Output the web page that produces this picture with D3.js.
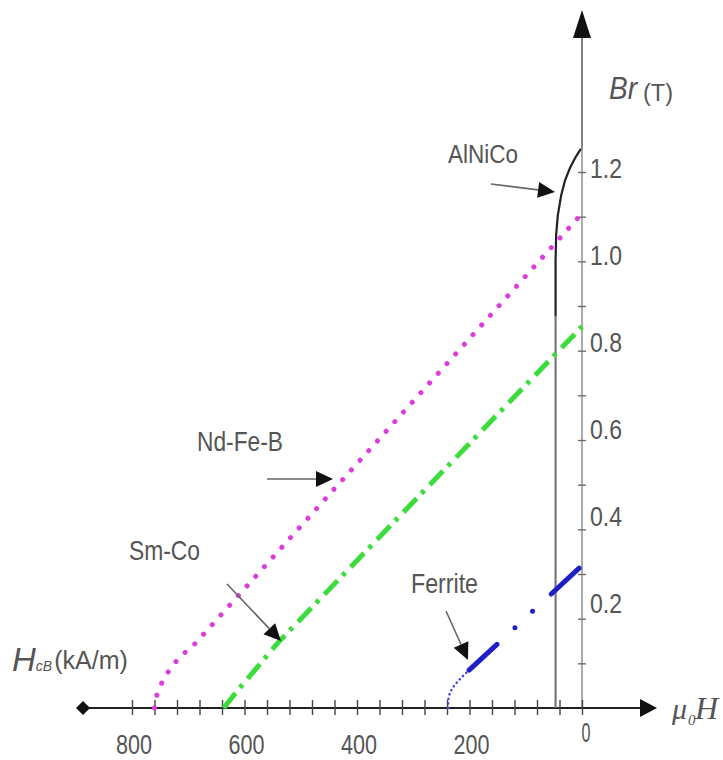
<!DOCTYPE html>
<html><head><meta charset="utf-8">
<script src="https://cdn.jsdelivr.net/npm/d3@7"></script>
<style>html,body{margin:0;padding:0;background:#fff}svg{display:block}</style>
</head><body><div id="chart"></div>
<script>
// ---- data ----
const xTickMarks = [0,40,80,120,160,200,240,280,320,360,400,440,480,520,560,600,640,680,720,760,800];
const xTickLabels = [800,600,400,200,0];
const yTickMarks = [0.1,0.2,0.3,0.4,0.5,0.6,0.7,0.8,0.9,1.0,1.1,1.2];
const yTickLabels = ["0.2","0.4","0.6","0.8","1.0","1.2"];

const ndfebH = [760,755,742,729,715,693,617,-2];
const ndfebB = [0,0.034,0.07,0.092,0.115,0.137,0.243,1.11];

const smcoH = [637,615,540,0];
const smcoB = [0,0.035,0.147,0.854];

const ferriteCurveH = [238,238,235,229,222,213,204];
const ferriteCurveB = [0,0.018,0.034,0.047,0.058,0.07,0.081];
const ferriteLineH = [204,0];
const ferriteLineB = [0.081,0.319];

const alnicoH = [3,12,21,30,37,43,46,47,47];
const alnicoB = [1.25,1.232,1.21,1.182,1.148,1.103,1.058,1.0,0.88];
const alnicoTailH = [47,47];
const alnicoTailB = [0.88,0];

// ---- layout ----
const W = 723, H = 760;
const svg = d3.select("#chart").append("svg").attr("width", W).attr("height", H);
const x = d3.scaleLinear().domain([800,0]).range([132,582]);
const y = d3.scaleLinear().domain([0,1.2]).range([708,172]);
const yLab = d3.scaleLinear().domain([0.2,1.2]).range([613,178]);
const SANS = "'Liberation Sans', Arial, sans-serif";
const SERIF = "'Liberation Serif', 'Times New Roman', serif";

function txt(px, py, s, size, len, o = {}) {
  const t = svg.append("text").attr("x", px).attr("y", py)
    .attr("font-family", o.family || SANS).attr("font-size", size)
    .attr("fill", o.fill || "#555").attr("text-anchor", o.anchor || "start")
    .text(s);
  if (o.italic) t.attr("font-style", "italic");
  if (len) t.attr("textLength", len).attr("lengthAdjust", "spacingAndGlyphs");
  return t;
}
function zip(a, b) { return a.map((v, i) => [v, b[i]]); }
const line = d3.line().x(d => x(d[0])).y(d => y(d[1]));

// ---- axes ----
svg.append("line").attr("x1", x(0)).attr("x2", x(0)).attr("y1", y(0)).attr("y2", y(1.25))
  .attr("stroke", "#aaa").attr("stroke-width", 2);
svg.append("line").attr("x1", x(0)).attr("x2", x(0)).attr("y1", y(1.25)).attr("y2", 30)
  .attr("stroke", "#666").attr("stroke-width", 1.6);
svg.append("path").attr("d", `M${x(0)},10 L${x(0)-9},38 L${x(0)+9},38 Z`).attr("fill", "#111");

const yAx = svg.append("g").attr("transform", `translate(${x(0)},0)`)
  .call(d3.axisRight(y).tickValues(yTickMarks).tickSize(4).tickFormat(""));
yAx.select(".domain").remove();
yAx.selectAll(".tick line").attr("x1", -4).attr("x2", 4).attr("stroke", "#666").attr("stroke-width", 1.3);

svg.append("line").attr("x1", 83).attr("x2", 642).attr("y1", y(0)).attr("y2", y(0))
  .attr("stroke", "#222").attr("stroke-width", 2);
svg.append("path").attr("d", `M657,${y(0)} L640,${y(0)-9} L640,${y(0)+9} Z`).attr("fill", "#111");
svg.append("path").attr("d", `M83,${y(0)-7} L90,${y(0)} L83,${y(0)+7} L76,${y(0)} Z`).attr("fill", "#111");

const xAx = svg.append("g").attr("transform", `translate(0,${y(0)})`)
  .call(d3.axisBottom(x).tickValues(xTickMarks).tickSize(7).tickFormat(""));
xAx.select(".domain").remove();
xAx.selectAll(".tick line").attr("y1", -8).attr("y2", 7).attr("stroke", "#444").attr("stroke-width", 1.4);

xTickLabels.forEach(v => {
  const s = String(v);
  if (v === 0) txt(x(v) + 4, 742, s, 28, 9, { anchor: "middle" });
  else txt(x(v) + 2, 754, s, 28, 36, { anchor: "middle" });
});
yTickLabels.forEach(s => txt(590, yLab(+s), s, 28, 32));

// ---- curves ----
svg.append("path").attr("d", line(zip(alnicoTailH, alnicoTailB)))
  .attr("fill", "none").attr("stroke", "#777").attr("stroke-width", 2.2);
svg.append("path").attr("d", line(zip(alnicoH, alnicoB)))
  .attr("fill", "none").attr("stroke", "#222").attr("stroke-width", 2.2).attr("stroke-linecap", "round");

svg.append("path").attr("d", line(zip(ndfebH, ndfebB)))
  .attr("fill", "none").attr("stroke", "#dd3cdd").attr("stroke-width", 5)
  .attr("stroke-linecap", "round").attr("stroke-dasharray", "0.1,12.9");

svg.append("path").attr("d", line(zip(smcoH, smcoB)))
  .attr("fill", "none").attr("stroke", "#3ddc3d").attr("stroke-width", 5)
  .attr("stroke-dasharray", "19,7,4,8");

svg.append("path").attr("d", line(zip(ferriteCurveH, ferriteCurveB)))
  .attr("fill", "none").attr("stroke", "#4a4ae0").attr("stroke-width", 2.6)
  .attr("stroke-linecap", "round").attr("stroke-dasharray", "0.1,4.5");
svg.append("path").attr("d", line(zip(ferriteLineH, ferriteLineB)))
  .attr("fill", "none").attr("stroke", "#1f1fc8").attr("stroke-width", 5)
  .attr("stroke-linecap", "round").attr("stroke-dasharray", "38,24.5,0,24,0,25.5")
  .attr("stroke-dashoffset", -2.5);

// ---- annotation arrows ----
function arrow(x1, y1, x2, y2) {
  const dx = x2 - x1, dy = y2 - y1, L = Math.hypot(dx, dy);
  const ux = dx / L, uy = dy / L, nx = -uy, ny = ux;
  const hl = 17, hw = 8;
  const bx = x2 - ux * hl, by = y2 - uy * hl;
  svg.append("line").attr("x1", x1).attr("y1", y1).attr("x2", bx).attr("y2", by)
    .attr("stroke", "#666").attr("stroke-width", 1.6);
  svg.append("path").attr("d", `M${x2},${y2} L${bx + nx * hw},${by + ny * hw} L${bx - nx * hw},${by - ny * hw} Z`)
    .attr("fill", "#111");
}
arrow(491, 184, 555, 192);
arrow(267, 479, 333, 479);
arrow(227, 584, 281, 641);
arrow(446, 611, 468, 660);

// ---- labels ----
txt(448, 163, "AlNiCo", 25, 70);
txt(197, 451, "Nd-Fe-B", 28, 86);
txt(129, 560, "Sm-Co", 28, 71);
txt(411, 593, "Ferrite", 28, 67);

txt(609, 99, "Br", 31, 28, { italic: true });
txt(643, 101, "(T)", 23, 30);

const hcb = svg.append("text").attr("x", 12).attr("y", 671)
  .attr("font-family", SANS).attr("fill", "#555");
hcb.append("tspan").attr("font-size", 33).attr("font-style", "italic").text("H");
hcb.append("tspan").attr("font-size", 14).attr("font-style", "italic").text("cB");
hcb.append("tspan").attr("font-size", 25).attr("dx", 2).attr("dy", -2).text("(kA/m)");

txt(672, 719, "μ", 30, null, { italic: true, family: SERIF });
txt(688, 725, "0", 15, null, { italic: true, family: SERIF });
txt(695, 719, "H", 32, null, { italic: true, family: SERIF });
</script></body></html>
